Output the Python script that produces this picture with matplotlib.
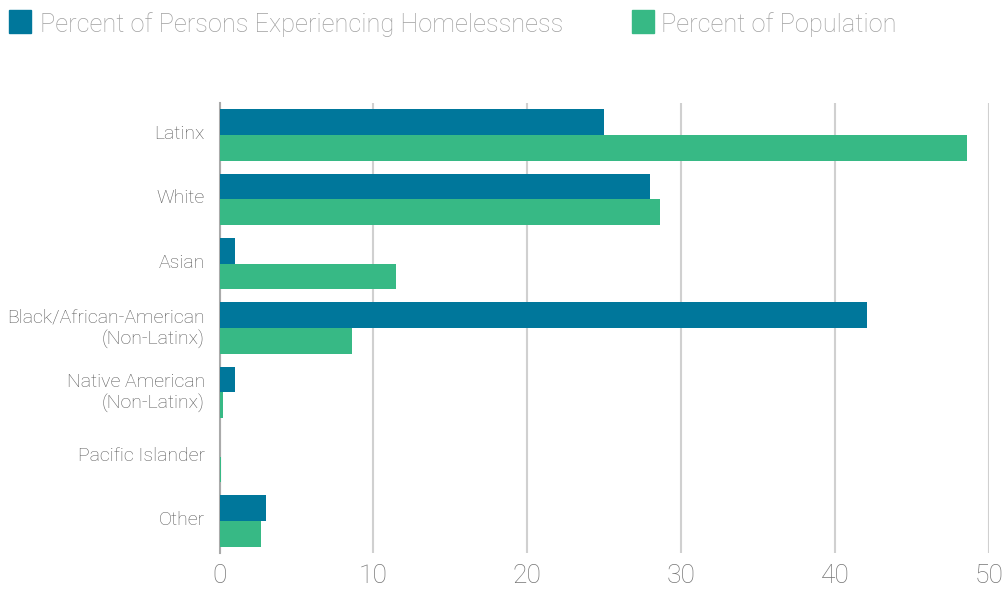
import matplotlib
matplotlib.use("Agg")
import matplotlib.pyplot as plt
import matplotlib.transforms as mtransforms
import numpy as np
from matplotlib.patches import Rectangle

categories = ["Latinx", "White", "Asian", "Black/African-American\n(Non-Latinx)",
              "Native American\n(Non-Latinx)", "Pacific Islander", "Other"]
homeless = [25.0, 28.0, 1.0, 42.1, 1.0, 0.0, 3.0]
population = [48.6, 28.6, 11.5, 8.6, 0.2, 0.1, 2.7]
series_names = ["Percent of Persons Experiencing Homelessness", "Percent of Population"]
xticks = [0, 10, 20, 30, 40, 50]

BLUE = "#00779B"
GREEN = "#37B985"

plt.rcParams['font.family'] = ['Roboto', 'DejaVu Sans']

fig = plt.figure(figsize=(10.08, 5.97), dpi=100)
ax = fig.add_axes([219.5/1008, 1-553/597, (989-219.5)/1008, 450/597])

y = np.arange(len(categories))
h = 0.4
ax.barh(y - h/2, homeless, height=h, color=BLUE, zorder=3)
ax.barh(y + h/2, population, height=h, color=GREEN, zorder=3)

ax.set_xlim(0, 50)
ax.set_ylim(6.5, -0.5)
ax.set_xticks(xticks)
ax.set_xticklabels([str(t) for t in xticks], fontsize=19, color="#757575", fontweight='light')
ax.set_yticks(y)
ax.set_yticklabels(categories, fontsize=14, color="#5a5a5a", fontweight='light', linespacing=1.2)
ax.tick_params(axis='both', length=0)
ax.tick_params(axis='x', pad=8)
ax.tick_params(axis='y', pad=10.5)
shift = mtransforms.ScaledTranslation(0, 3/100, fig.dpi_scale_trans)
for lbl in ax.get_yticklabels():
    lbl.set_transform(lbl.get_transform() + shift)
ax.grid(axis='x', color="#d0d0d0", linewidth=1.5, zorder=0)
for s in ['top', 'right', 'bottom']:
    ax.spines[s].set_visible(False)
ax.spines['left'].set_color("#aaaaaa")
ax.spines['left'].set_linewidth(1.5)
ax.spines['left'].set_zorder(2)

# legend
fig.patches.append(Rectangle((9/1008, 1-33/597), 22/1008, 23/597, transform=fig.transFigure,
                             color=BLUE, figure=fig))
fig.text(40/1008, 1-24.5/597, series_names[0], fontsize=18.3, color="#a0a0a0",
         fontweight='light', va='center', ha='left')
fig.patches.append(Rectangle((632/1008, 1-33/597), 22/1008, 23/597, transform=fig.transFigure,
                             color=GREEN, figure=fig))
fig.text(661/1008, 1-24.5/597, series_names[1], fontsize=18.3, color="#a0a0a0",
         fontweight='light', va='center', ha='left')

fig.savefig("out.png", dpi=100)
